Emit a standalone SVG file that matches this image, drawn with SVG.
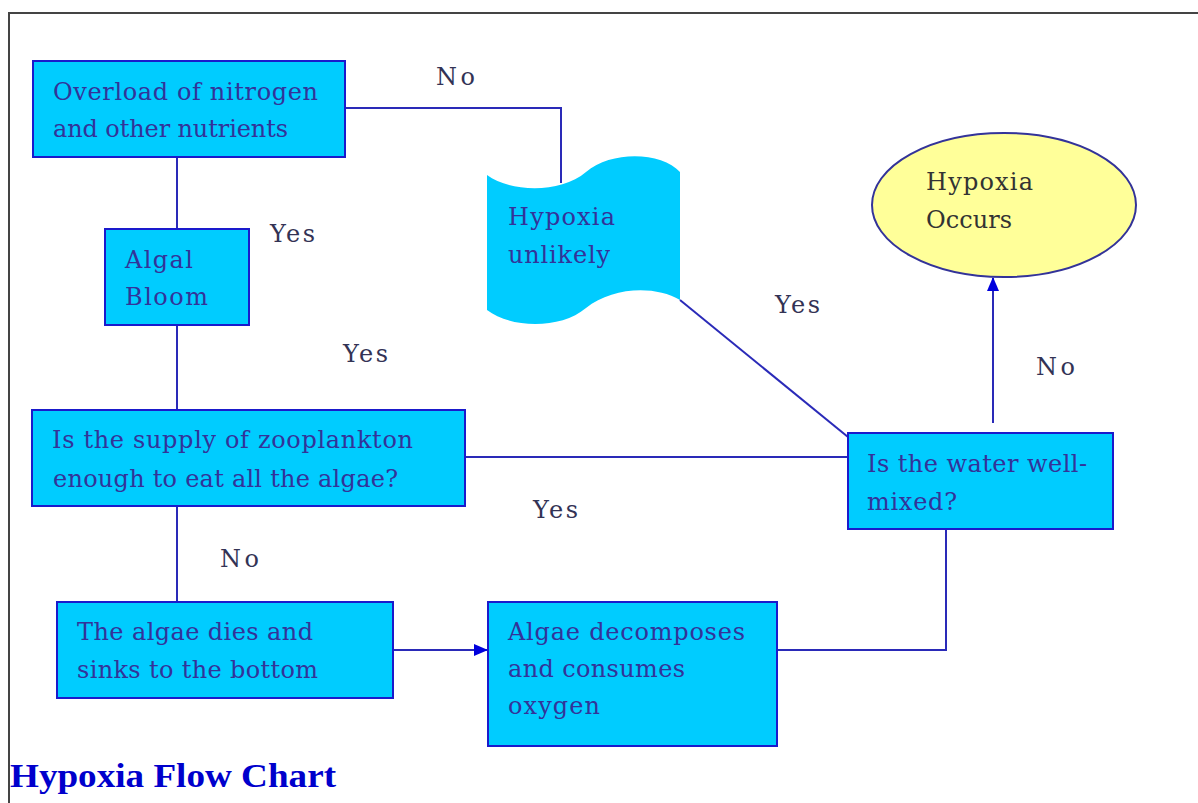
<svg xmlns="http://www.w3.org/2000/svg" width="1198" height="803" viewBox="0 0 1198 803">
<style>
.box{fill:#00ccff;stroke:#1a1acc;stroke-width:2}
.t{font-family:"DejaVu Serif","Liberation Serif",serif;font-size:24px;fill:#333399}
.lbl{font-family:"DejaVu Serif","Liberation Serif",serif;font-size:24px;fill:#333355}
.dk{fill:#333333}
.c{fill:none;stroke:#2a2ab8;stroke-width:2}
</style>
<defs>
<marker id="ah" markerWidth="14" markerHeight="12" refX="13" refY="6" orient="auto" markerUnits="userSpaceOnUse">
<path d="M0,0 L14,6 L0,12 Z" fill="#0000dd"/>
</marker>
</defs>
<rect x="0" y="0" width="1198" height="803" fill="#ffffff"/>
<path d="M9,803 L9,13 L1198,13" fill="none" stroke="#444444" stroke-width="2"/>

<g id="connectors">
<path class="c" d="M345,108 L561,108 L561,183"/>
<path class="c" d="M177,157 L177,229"/>
<path class="c" d="M177,325 L177,410"/>
<path class="c" d="M177,506 L177,602"/>
<path class="c" d="M465,457 L848,457"/>
<path class="c" d="M848,437 L680,300" stroke="#5050c8"/>
<path class="c" d="M393,650 L487,650" marker-end="url(#ah)"/>
<path class="c" d="M777,650 L946,650 L946,530"/>
<path class="c" d="M993,423 L993,278" marker-end="url(#ah)"/>
</g>

<g id="labels">
<text class="lbl" x="436" y="85" textLength="39">No</text>
<text class="lbl" x="270" y="242" textLength="45">Yes</text>
<text class="lbl" x="343" y="362" textLength="45">Yes</text>
<text class="lbl" x="775" y="313" textLength="45">Yes</text>
<text class="lbl" x="1036" y="375" textLength="39">No</text>
<text class="lbl" x="533" y="518" textLength="45">Yes</text>
<text class="lbl" x="220" y="567" textLength="39">No</text>
</g>

<g id="overload">
<rect class="box" x="33" y="61" width="312" height="96"/>
<text class="t" x="53" y="100" textLength="265">Overload of nitrogen</text>
<text class="t" x="53" y="137" textLength="235">and other nutrients</text>
</g>

<g id="algal-bloom">
<rect class="box" x="105" y="229" width="144" height="96"/>
<text class="t" x="125" y="268" textLength="68">Algal</text>
<text class="t" x="125" y="305" textLength="83">Bloom</text>
</g>

<g id="zooplankton">
<rect class="box" x="32" y="410" width="433" height="96"/>
<text class="t" x="52" y="448" textLength="361">Is the supply of zooplankton</text>
<text class="t" x="53" y="487" textLength="345">enough to eat all the algae?</text>
</g>

<g id="algae-dies">
<rect class="box" x="57" y="602" width="336" height="96"/>
<text class="t" x="77" y="640" textLength="236">The algae dies and</text>
<text class="t" x="77" y="678" textLength="241">sinks to the bottom</text>
</g>

<g id="decomposes">
<rect class="box" x="488" y="602" width="289" height="144"/>
<text class="t" x="508" y="640" textLength="237">Algae decomposes</text>
<text class="t" x="508" y="677" textLength="177">and consumes</text>
<text class="t" x="508" y="714" textLength="92">oxygen</text>
</g>

<g id="well-mixed">
<rect class="box" x="848" y="433" width="265" height="96"/>
<text class="t" x="867" y="472" textLength="220">Is the water well-</text>
<text class="t" x="867" y="510" textLength="90">mixed?</text>
</g>

<g id="hypoxia-occurs">
<ellipse cx="1004" cy="205" rx="132" ry="72" fill="#ffff99" stroke="#333399" stroke-width="2"/>
<text class="t dk" x="926" y="190" textLength="107">Hypoxia</text>
<text class="t dk" x="926" y="228" textLength="86">Occurs</text>
</g>

<g id="hypoxia-unlikely">
<path d="M487,175 C510,192 560,194 586,172 C612,150 662,152 680,172 L680,300 C655,285 612,287 586,308 C560,330 510,328 487,310 Z" fill="#00ccff"/>
<text class="t" x="508" y="225" textLength="107">Hypoxia</text>
<text class="t" x="508" y="263" textLength="102">unlikely</text>
</g>

<text x="10" y="787" font-family="'Liberation Serif', serif" font-size="34" font-weight="bold" fill="#0000cc" textLength="326" lengthAdjust="spacingAndGlyphs">Hypoxia Flow Chart</text>
</svg>
